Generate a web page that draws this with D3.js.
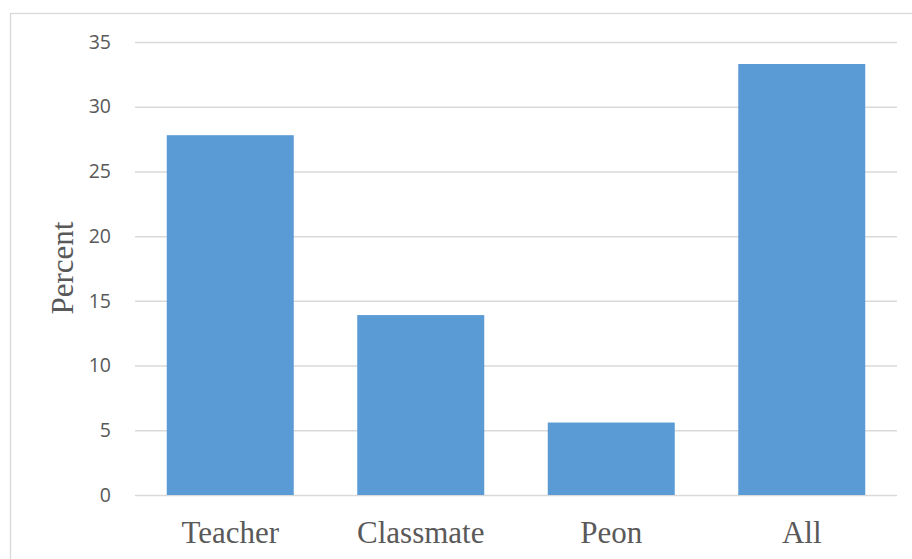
<!DOCTYPE html>
<html>
<head>
<meta charset="utf-8">
<script src="https://cdn.jsdelivr.net/npm/d3@7"></script>
<style>
  html, body { margin: 0; padding: 0; background: #fff; }
  svg { display: block; }
  .cat-label { font-family: "Liberation Serif", "Times New Roman", serif; font-size: 31px; fill: #595959; }
  .val-label { font-family: "Open Sans", sans-serif; font-size: 19.5px; fill: #595959; }
</style>
</head>
<body>
<svg id="chart" width="912" height="559"></svg>
<script>
// Share of respondents by group
const categories = ["Teacher", "Classmate", "Peon", "All"];
const percentValues = [27.8, 13.9, 5.6, 33.3];
const yTickValues = [0, 5, 10, 15, 20, 25, 30, 35];

const svg = d3.select("#chart");
const W = 912, H = 559;
const plot = { left: 135, right: 897, top: 42, bottom: 495 };

// Outer chart frame (runs past the right and bottom edges)
svg.append("rect")
  .attr("x", 10.5).attr("y", 13.5)
  .attr("width", W).attr("height", H)
  .attr("fill", "#fff")
  .attr("stroke", "#d9d9d9")
  .attr("stroke-width", 1.3);

const x = d3.scaleBand()
  .domain(categories)
  .range([plot.left, plot.right])
  .paddingInner(1 / 3)
  .paddingOuter(1 / 6);

const y = d3.scaleLinear()
  .domain([0, 35])
  .range([plot.bottom, plot.top]);

// Horizontal gridlines + tick labels
const yAxis = d3.axisLeft(y)
  .tickValues(yTickValues)
  .tickSize(-(plot.right - plot.left))
  .tickPadding(24)
  .tickFormat(d3.format("d"));

const gy = svg.append("g")
  .attr("transform", `translate(${plot.left},0)`)
  .call(yAxis)
  .attr("font-family", null)
  .attr("font-size", null);
gy.select(".domain").remove();
gy.selectAll(".tick line")
  .attr("stroke", "#d9d9d9")
  .attr("stroke-width", 1.5);
gy.selectAll(".tick text")
  .attr("fill", null)
  .attr("class", "val-label");

// Bars
svg.append("g")
  .selectAll("rect")
  .data(categories.map((c, i) => ({ c, v: percentValues[i] })))
  .join("rect")
  .attr("x", d => x(d.c))
  .attr("width", x.bandwidth())
  .attr("y", d => y(d.v))
  .attr("height", d => y(0) - y(d.v))
  .attr("fill", "#5b9bd5");

// Category labels
const xAxis = d3.axisBottom(x).tickSize(0).tickPadding(0);
const gx = svg.append("g")
  .attr("transform", `translate(0,${plot.bottom})`)
  .call(xAxis)
  .attr("font-family", null)
  .attr("font-size", null);
gx.select(".domain").remove();
gx.selectAll(".tick text")
  .attr("dy", null)
  .attr("y", 48)
  .attr("fill", null)
  .attr("class", "cat-label");

// Y axis title
svg.append("text")
  .attr("class", "cat-label")
  .attr("transform", "translate(73,268) rotate(-90)")
  .attr("text-anchor", "middle")
  .text("Percent");
</script>
</body>
</html>
